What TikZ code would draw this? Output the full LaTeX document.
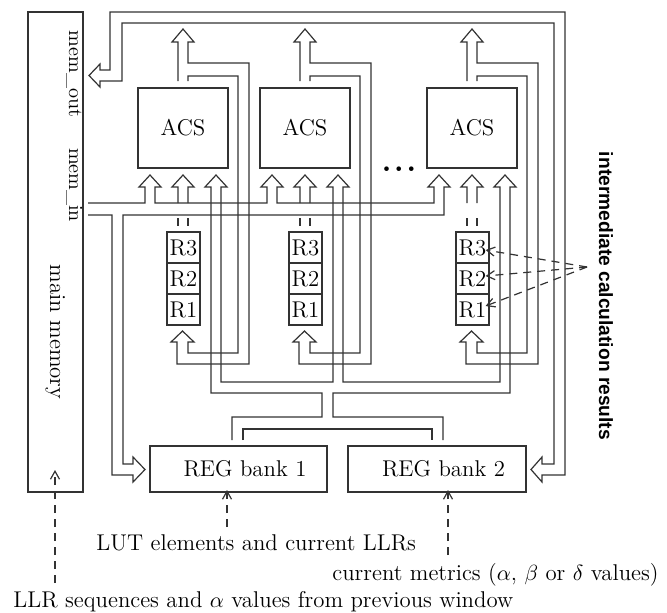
\documentclass[tikz,border=0pt]{standalone}
\usepackage{fontspec}
\newfontfamily\boldsans{Liberation Sans}
\usetikzlibrary{arrows.meta,calc}
\begin{document}
\begin{tikzpicture}[x=0.5pt,y=-0.5pt,
  wire/.style={draw=black!80, line width=0.6pt, line join=miter},
  box/.style={draw=black!80, line width=0.6pt, inner sep=0pt},
  lbl/.style={font=\fontsize{11.4}{13}\selectfont},
  dsh/.style={draw=black!80, line width=0.6pt, dash pattern=on 4pt off 3pt, -{Straight Barb[length=4pt,width=4.5pt]}}
]
\useasboundingbox (0,0) rectangle (667,612);

% main memory
\node[box, minimum width=27.5pt, minimum height=240pt] (mm) at (55.5,252) {};
\node[font=\fontsize{10}{12}\selectfont, rotate=-90, anchor=base, inner sep=0pt] (memout) at (69,74) {mem\_out};
\node[font=\fontsize{10}{12}\selectfont, rotate=-90, anchor=base, inner sep=0pt] (memin) at (69,185) {mem\_in};
\node[lbl, rotate=-90, anchor=base, inner sep=0pt] (mmlabel) at (50,332) {main memory};

% ACS units
\foreach \i/\dx in {1/0,2/122,3/289} {
  \node[box, lbl, minimum width=45pt, minimum height=40pt] (acs\i) at ({183+\dx},128) {ACS};
  \node[box, lbl, minimum width=16.5pt, minimum height=15.5pt] (rthree\i) at ({183.5+\dx},247.5) {R3};
  \node[box, lbl, minimum width=16.5pt, minimum height=15.5pt] (rtwo\i) at ({183.5+\dx},278.5) {R2};
  \node[box, lbl, minimum width=16.5pt, minimum height=15.5pt] (rone\i) at ({183.5+\dx},309.5) {R1};
  % output arrow with feedback branch to R1
  \draw[wire] ({178+\dx},81) -- ({178+\dx},42) -- ({172+\dx},42) -- ({183+\dx},29) -- ({194+\dx},42) -- ({188+\dx},42) -- ({188+\dx},63) -- ({249+\dx},63) -- ({249+\dx},364) -- ({177+\dx},364) -- ({177+\dx},342) -- ({171+\dx},342) -- ({182.5+\dx},331) -- ({194+\dx},342) -- ({188+\dx},342) -- ({188+\dx},353) -- ({238+\dx},353) -- ({238+\dx},76) -- ({188+\dx},76) -- ({188+\dx},81);
  % input arrow 2 (from R3)
  \draw[wire] ({178+\dx},203) -- ({178+\dx},187) -- ({172+\dx},187) -- ({183+\dx},175) -- ({194+\dx},187) -- ({188+\dx},187) -- ({188+\dx},203);
  \draw[wire] ({178+\dx},218) -- ({178+\dx},226) ({188+\dx},218) -- ({188+\dx},226);
}

% dots
\node[font=\bfseries\fontsize{16}{18}\selectfont, anchor=base, inner sep=0pt] (dots) at (399,171) {.\kern1.2pt.\kern1.2pt.};

% REG banks
\node[box, lbl, minimum width=88.5pt, minimum height=23pt] (reg1) at (238.5,469) {\hspace*{6.5pt}REG bank 1};
\node[box, lbl, minimum width=89pt, minimum height=23pt] (reg2) at (437,469) {\hspace*{6.5pt}REG bank 2};

% mem_in bus
\draw[wire] (88,203) -- (145,203) -- (145,187) -- (139,187) -- (150,175) -- (161,187) -- (155,187) -- (155,203) -- (267,203) -- (267,187) -- (261,187) -- (272,175) -- (283,187) -- (277,187) -- (277,203) -- (434,203) -- (434,187) -- (428,187) -- (439,175) -- (450,187) -- (444,187) -- (444,215) -- (123,215) -- (123,464) -- (133,464) -- (133,457) -- (145,469.5) -- (133,482) -- (133,475) -- (112,475) -- (112,215) -- (88,215);

% input arrow 3 bus to REG banks
\draw[wire] (232,440) -- (232,417) -- (322,417) -- (322,393) -- (211,393) -- (211,187) -- (205,187) -- (216,175) -- (227,187) -- (221,187) -- (221,382) -- (333,382) -- (333,187) -- (327,187) -- (338,175) -- (349,187) -- (343,187) -- (343,382) -- (500,382) -- (500,187) -- (494,187) -- (505,175) -- (516,187) -- (510,187) -- (510,393) -- (333,393) -- (333,417) -- (443,417) -- (443,440);
\draw[wire] (243,440) -- (243,429) -- (432,429) -- (432,440);

% top loop: mem_out and REG bank 2
\draw[wire] (100,70) -- (110,70) -- (110,12) -- (565,12) -- (565,475) -- (542,475) -- (542,482) -- (531,469.5) -- (542,457) -- (542,464) -- (554,464) -- (554,23) -- (122,23) -- (122,81) -- (100,81) -- (100,87) -- (89,75.5) -- (100,64) -- cycle;

% intermediate results
\coordinate (icr) at (587,267);
\draw[dsh] (icr) -- ([xshift=-2pt,yshift=-1.25pt]rthree3.east);
\draw[dsh] (icr) -- ([xshift=-2pt,yshift=1.25pt]rtwo3.east);
\draw[dsh] (icr) -- ([xshift=-2pt,yshift=1.75pt]rone3.east);
\node[rotate=-90, anchor=base, inner sep=0pt, font=\boldsans\bfseries\fontsize{9.6}{11}\selectfont] (icrlabel) at (599,296) {intermediate calculation results};

% bottom texts and dashed inputs
\node[lbl, anchor=base west, inner sep=0pt] (lut) at (96,550) {LUT elements and current LLRs};
\node[lbl, anchor=base west, inner sep=0pt] (cur) at (332,580) {current metrics ($\alpha$, $\beta$ or $\delta$ values)};
\node[lbl, anchor=base west, inner sep=0pt] (llr) at (13,607) {LLR sequences and $\alpha$ values from previous window};
\coordinate (lutsrc) at (227,527);
\coordinate (cursrc) at (448,555);
\coordinate (llrsrc) at (55,583);
\draw[dsh] (lutsrc) -- (lutsrc |- 0,490);
\draw[dsh] (cursrc) -- (cursrc |- 0,490);
\draw[dsh] (llrsrc) -- (llrsrc |- 0,470);
\end{tikzpicture}
\end{document}
